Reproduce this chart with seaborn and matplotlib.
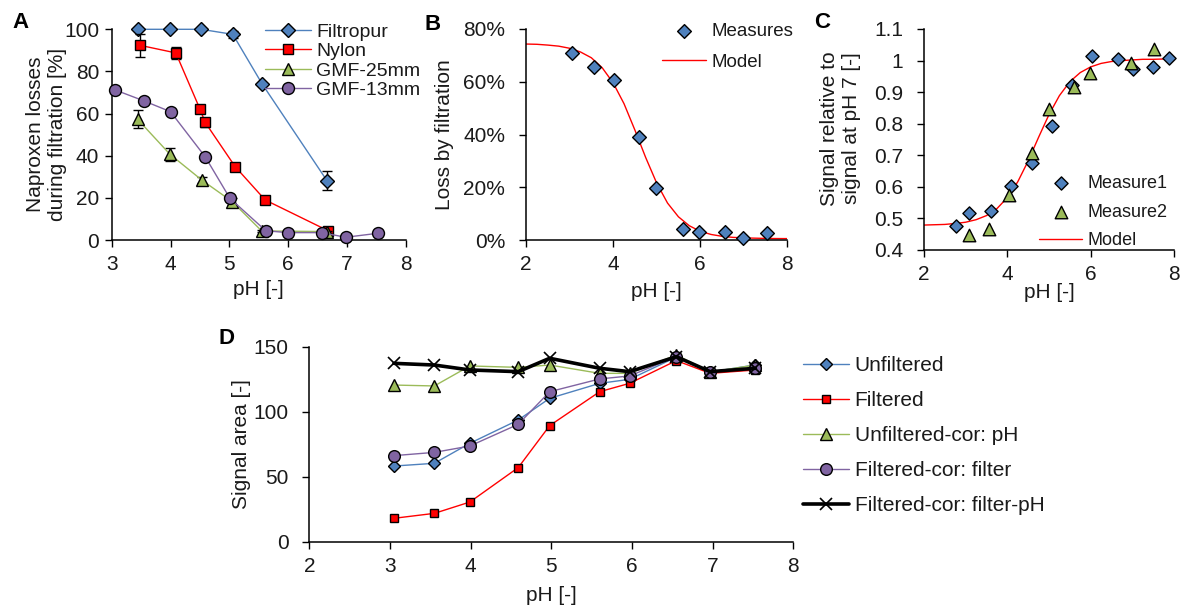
import matplotlib
matplotlib.use("Agg")
import matplotlib.pyplot as plt
import seaborn as sns
from matplotlib.ticker import PercentFormatter, FuncFormatter, MultipleLocator

# ---------------- Panel A: naproxen losses per filter type ----------------
filtropur_ph = [3.44, 3.99, 4.52, 5.06, 5.56, 6.66]
filtropur_loss = [100, 100, 100, 97.6, 74.0, 28.2]
filtropur_err = [0, 0, 0, 1.5, 0, 4.5]

nylon_ph = [3.48, 4.09, 4.50, 4.59, 5.10, 5.61, 6.68]
nylon_loss = [92.4, 88.8, 62.2, 55.8, 34.8, 19.0, 4.4]
nylon_err = [5.5, 3.0, 2.0, 2.0, 1.0, 0.5, 0.5]

gmf25_ph = [3.44, 3.99, 4.53, 5.05, 5.55, 6.66]
gmf25_loss = [57.3, 40.7, 28.5, 18.2, 4.3, 4.0]
gmf25_err = [4.3, 3.0, 1.5, 1.5, 0.5, 0.5]

gmf13_ph = [3.06, 3.55, 4.00, 4.59, 5.01, 5.62, 5.99, 6.57, 6.98, 7.53]
gmf13_loss = [71.2, 66.0, 60.9, 39.5, 19.8, 4.4, 3.5, 3.5, 1.3, 3.2]

# ---------------- Panel B: loss by filtration ----------------
measures_ph = [3.06, 3.57, 4.02, 4.60, 4.99, 5.61, 5.98, 6.57, 6.99, 7.53]
measures_loss = [71.0, 65.6, 60.7, 38.9, 19.6, 4.0, 3.0, 3.0, 0.9, 2.5]

model_ph = [2.0, 2.25, 2.5, 2.75, 3.0, 3.25, 3.5, 3.75, 4.0, 4.25, 4.5, 4.75,
            5.0, 5.25, 5.5, 5.75, 6.0, 6.25, 6.5, 6.75, 7.0, 7.25, 7.5, 7.75, 8.0]
model_b_loss = [74.3, 74.2, 73.9, 73.5, 72.7, 71.3, 69.1, 65.3, 59.6, 51.7, 41.7, 31.2,
                21.6, 14.0, 8.8, 5.4, 3.3, 2.1, 1.4, 1.0, 0.8, 0.7, 0.6, 0.55, 0.53]

# ---------------- Panel C: signal relative to pH 7 ----------------
measure1_ph = [2.77, 3.09, 3.60, 4.08, 4.58, 5.06, 5.55, 6.03, 6.66, 7.02, 7.50, 7.89]
measure1_sig = [0.477, 0.516, 0.524, 0.603, 0.675, 0.794, 0.923, 1.015, 1.004, 0.972, 0.979, 1.007]
measure2_ph = [3.07, 3.57, 4.03, 4.59, 5.00, 5.60, 5.98, 6.96, 7.51]
measure2_sig = [0.448, 0.466, 0.574, 0.706, 0.846, 0.917, 0.962, 0.991, 1.036]
model_c_sig = [0.479, 0.480, 0.481, 0.484, 0.488, 0.496, 0.509, 0.531, 0.566, 0.616, 0.682, 0.757,
               0.829, 0.889, 0.933, 0.962, 0.980, 0.991, 0.997, 1.000, 1.002, 1.004, 1.004, 1.005, 1.005]

# ---------------- Panel D: signal areas ----------------
d_ph = [3.05, 3.55, 3.99, 4.59, 4.98, 5.60, 5.97, 6.55, 6.97, 7.53]
unfiltered = [58.2, 60.3, 75.7, 93.6, 110.3, 121.8, 124.9, 142.0, 130.5, 136.0]
filtered = [18.0, 21.8, 30.5, 57.0, 89.3, 115.4, 121.8, 139.3, 129.5, 132.1]
unfiltered_cor_ph = [120.5, 119.8, 135.2, 134.1, 135.9, 129.5, 129.5, 143.6, 130.5, 135.9]
filtered_cor_filter = [66.2, 68.7, 73.6, 90.3, 115.4, 125.2, 127.5, 142.3, 130.8, 133.4]
filtered_cor_filter_ph = [137.2, 135.9, 132.1, 130.8, 141.1, 133.4, 130.8, 142.3, 130.8, 133.4]

BLUE = "#4F81BD"
RED = "#FF0000"
GREEN = "#9BBB59"
PURPLE = "#8064A2"

sns.set_theme(style="ticks")
plt.rcParams["font.family"] = ["Liberation Sans", "DejaVu Sans"]
plt.rcParams["font.size"] = 15
plt.rcParams["axes.linewidth"] = 1.1
plt.rcParams["axes.edgecolor"] = "black"
plt.rcParams["xtick.color"] = "black"
plt.rcParams["ytick.color"] = "black"
plt.rcParams["text.color"] = "#1a1a1a"
plt.rcParams["axes.labelcolor"] = "#1a1a1a"

W, H = 1183, 608
fig = plt.figure(figsize=(W / 100, H / 100), dpi=100)


def axes_px(left, top, right, bottom):
    return fig.add_axes([left / W, 1 - bottom / H, (right - left) / W, (bottom - top) / H])


def style(ax, ypad=10):
    sns.despine(ax=ax)
    ax.tick_params(axis="both", direction="out", length=5, width=1.0, labelsize=15,
                   colors="black", labelcolor="#1a1a1a")
    ax.tick_params(axis="x", pad=6)
    ax.tick_params(axis="y", pad=ypad)
    ax.grid(False)
    ax.set_facecolor("none")


def series(ax, x, y, color, marker, ms, label, z, lw=1.0, fill=None, mew=1.0, mec="black"):
    sns.lineplot(x=x, y=y, ax=ax, color=color, marker=marker, markersize=ms,
                 markerfacecolor=fill if fill else color, markeredgecolor=mec,
                 markeredgewidth=mew, linewidth=lw, label=label, errorbar=None,
                 zorder=z, clip_on=False)


def letter(x, y, s):
    fig.text(x / W, 1 - y / H, s, fontsize=16, fontweight="bold", ha="center", va="center",
             color="black")


def place_legend(ax, handles, labels, x, y, size, handlelength, spacing):
    ax.legend(handles, labels, loc="upper left", bbox_to_anchor=(x / W, 1 - y / H),
              bbox_transform=fig.transFigure, frameon=False, borderpad=0, borderaxespad=0,
              handlelength=handlelength, handletextpad=0.28, labelspacing=spacing,
              fontsize=size)


# ---- A ----
axA = axes_px(111.7, 29.3, 405.7, 240)
for (x, y, e, z) in [(filtropur_ph, filtropur_loss, filtropur_err, 2),
                     (nylon_ph, nylon_loss, nylon_err, 3),
                     (gmf25_ph, gmf25_loss, gmf25_err, 4)]:
    axA.errorbar(x, y, yerr=e, fmt="none", ecolor="black", elinewidth=1.0, capsize=3.5,
                 capthick=1.0, zorder=z - 0.5, clip_on=False)
series(axA, filtropur_ph, filtropur_loss, BLUE, "D", 7.0, "Filtropur", 2)
series(axA, nylon_ph, nylon_loss, RED, "s", 7.2, "Nylon", 3)
series(axA, gmf25_ph, gmf25_loss, GREEN, "^", 8.4, "GMF-25mm", 4)
series(axA, gmf13_ph, gmf13_loss, PURPLE, "o", 8.6, "GMF-13mm", 5)
axA.set_xlim(3, 8)
axA.set_ylim(0, 100)
axA.xaxis.set_major_locator(MultipleLocator(1))
axA.yaxis.set_major_locator(MultipleLocator(20))
axA.set_xlabel("pH [-]", fontsize=15)
axA.set_ylabel("Naproxen losses\nduring filtration [%]", fontsize=15, linespacing=1.2)
style(axA, ypad=4)
axA.xaxis.set_label_coords(0.5, -0.19)
axA.yaxis.set_label_coords(-0.152, 0.5)
hA, lA = axA.get_legend_handles_labels()
place_legend(axA, hA, lA, 265, 23, 14, 2.35, 0.1)

# ---- B ----
axB = axes_px(526, 29, 787.3, 240)
sns.lineplot(x=model_ph, y=model_b_loss, ax=axB, color=RED, linewidth=1.0, label="Model",
             errorbar=None, zorder=2)
sns.scatterplot(x=measures_ph, y=measures_loss, ax=axB, marker="D", s=49,
                color=BLUE, edgecolor="black", linewidth=1.0, label="Measures", zorder=3,
                clip_on=False)
axB.set_xlim(2, 8)
axB.set_ylim(0, 80)
axB.xaxis.set_major_locator(MultipleLocator(2))
axB.yaxis.set_major_locator(MultipleLocator(20))
axB.yaxis.set_major_formatter(PercentFormatter(xmax=100, decimals=0))
axB.set_xlabel("pH [-]", fontsize=15)
axB.set_ylabel("Loss by filtration", fontsize=15)
style(axB)
axB.xaxis.set_label_coords(0.5, -0.2)
axB.yaxis.set_label_coords(-0.276, 0.5)
hB, lB = axB.get_legend_handles_labels()
orderB = [lB.index("Measures"), lB.index("Model")]
place_legend(axB, [hB[i] for i in orderB], [lB[i] for i in orderB], 662, 23, 13.5, 2.35, 0.72)

# ---- C ----
axC = axes_px(924, 29, 1174, 250)
sns.lineplot(x=model_ph, y=model_c_sig, ax=axC, color=RED, linewidth=1.0, label="Model",
             errorbar=None, zorder=2)
sns.scatterplot(x=measure1_ph, y=measure1_sig, ax=axC, marker="D", s=45,
                color=BLUE, edgecolor="black", linewidth=1.0, label="Measure1", zorder=3,
                clip_on=False)
sns.scatterplot(x=measure2_ph, y=measure2_sig, ax=axC, marker="^", s=81,
                color=GREEN, edgecolor="black", linewidth=1.0, label="Measure2", zorder=4,
                clip_on=False)
axC.set_xlim(2, 8)
axC.set_ylim(0.4, 1.1)
axC.xaxis.set_major_locator(MultipleLocator(2))
axC.yaxis.set_major_locator(MultipleLocator(0.1))
axC.yaxis.set_major_formatter(FuncFormatter(lambda v, p: f"{v:g}"))
axC.set_xlabel("pH [-]", fontsize=15)
axC.set_ylabel("Signal relative to\nsignal at pH 7 [-]", fontsize=15, linespacing=1.2)
style(axC)
axC.xaxis.set_label_coords(0.5, -0.15)
axC.yaxis.set_label_coords(-0.252, 0.55)
hC, lC = axC.get_legend_handles_labels()
orderC = [lC.index("Measure1"), lC.index("Measure2"), lC.index("Model")]
place_legend(axC, [hC[i] for i in orderC], [lC[i] for i in orderC], 1039, 175, 13, 2.4, 0.64)

# ---- D ----
axD = axes_px(309.3, 346.7, 793.3, 541.7)
series(axD, d_ph, unfiltered, BLUE, "D", 6.0, "Unfiltered", 2)
series(axD, d_ph, filtered, RED, "s", 6.2, "Filtered", 3)
series(axD, d_ph, unfiltered_cor_ph, GREEN, "^", 8.1, "Unfiltered-cor: pH", 4)
series(axD, d_ph, filtered_cor_filter, PURPLE, "o", 8.4, "Filtered-cor: filter", 5)
series(axD, d_ph, filtered_cor_filter_ph, "black", "x", 8.0, "Filtered-cor: filter-pH", 6,
       lw=2.6, mew=1.2)
axD.set_xlim(2, 8)
axD.set_ylim(0, 150)
axD.xaxis.set_major_locator(MultipleLocator(1))
axD.yaxis.set_major_locator(MultipleLocator(50))
axD.set_xlabel("pH [-]", fontsize=15)
axD.set_ylabel("Signal area [-]", fontsize=15)
style(axD)
axD.xaxis.set_label_coords(0.5, -0.226)
axD.yaxis.set_label_coords(-0.12, 0.5)
hD, lD = axD.get_legend_handles_labels()
place_legend(axD, hD, lD, 803, 356, 15, 2.2, 0.77)

letter(20, 23, "A")
letter(433, 24, "B")
letter(822, 23, "C")
letter(226, 339, "D")

fig.savefig("out.png", dpi=100, facecolor="white")
